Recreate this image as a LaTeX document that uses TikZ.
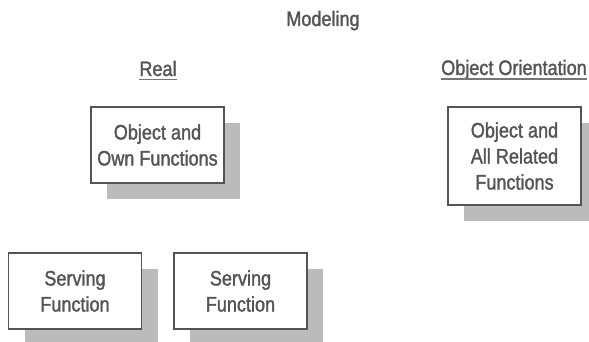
\documentclass[tikz,border=0pt]{standalone}
\usepackage{fontspec}
\setmainfont{Liberation Sans}[FakeStretch=0.86, FakeBold=1.4]
\usetikzlibrary{shadows}
\definecolor{inkgray}{HTML}{545454}
\definecolor{shadowgray}{HTML}{BBBBBB}

\begin{document}
\begin{tikzpicture}[x=1pt, y=-1pt,
  heading/.style={anchor=base, inner sep=0pt, text=inkgray, font=\fontsize{21}{26}\selectfont},
  rule/.style={draw=inkgray!80, line width=1.4pt},
  box/.style={draw=inkgray, line width=1.3pt, fill=white, text=inkgray, align=center,
    minimum width=133pt, minimum height=76pt, inner sep=0pt,
    font=\fontsize{21}{26}\selectfont,
    drop shadow={shadow xshift=16pt, shadow yshift=-16pt, fill=shadowgray, opacity=1}}]
  \useasboundingbox (0,0) rectangle (589,342);

  % Title
  \node[heading] (model) at (323, 26) {Modeling};

  % Column headings, underlined
  \node[heading] (real) at (158, 76) {Real};
  \draw[rule] ([yshift=-3.5pt]real.base west) -- ([yshift=-3.5pt]real.base east);
  \node[heading] (oo) at (514, 75) {Object Orientation};
  \draw[rule] ([yshift=-4pt]oo.base west) -- ([yshift=-4pt]oo.base east);

  % Real side
  \node[box] (own) at (157.5, 145) {Object and\\Own Functions};
  \node[box] (serve1) at (75, 291) {Serving\\Function};
  \node[box] (serve2) at (240.5, 291) {Serving\\Function};

  % Object orientation side
  \node[box, minimum height=98pt] (all) at (514.5, 156) {Object and\\All Related\\Functions};
\end{tikzpicture}
\end{document}
